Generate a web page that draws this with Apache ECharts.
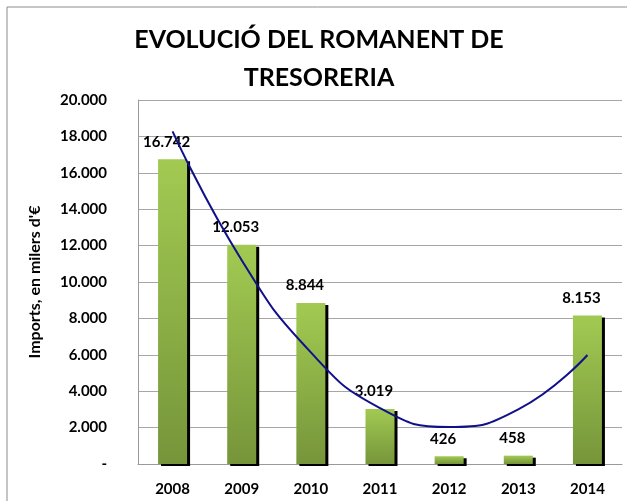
<!DOCTYPE html>
<html>
<head>
<meta charset="utf-8">
<script src="https://cdn.jsdelivr.net/npm/echarts@6/dist/echarts.min.js"></script>
<style>
html,body{margin:0;padding:0;background:#fff;}
#chart{width:627px;height:501px;}
</style>
</head>
<body>
<div id="chart"></div>
<script>
var titleText = "EVOLUCIÓ DEL ROMANENT DE\nTRESORERIA";
var yAxisName = "Imports, en milers d'€";
var categories = ["2008", "2009", "2010", "2011", "2012", "2013", "2014"];
var values = [16742, 12053, 8844, 3019, 426, 458, 8153];
// trend line (polynomial) at each year
var trendValues = [18280, 11200, 6130, 3070, 2030, 3000, 5990];
var yMin = 0, yMax = 20000, yStep = 2000;

function fmt(v) {
  if (v === 0) return '-';
  return String(v).replace(/\B(?=(\d{3})+(?!\d))/g, '.');
}

var FONT = 'Lato';
var chart = echarts.init(document.getElementById('chart'), null, {renderer: 'canvas'});
chart.setOption({
  animation: false,
  backgroundColor: '#fff',
  graphic: [{
    type: 'rect', shape: {x: 7, y: 7, width: 640, height: 520},
    style: {fill: null, stroke: '#8c8c8c', lineWidth: 1}, silent: true
  }, {
    type: 'text', x: 319, y: 21,
    style: {
      text: titleText, align: 'center', verticalAlign: 'top',
      fontFamily: FONT, fontWeight: 'bold', fontSize: 25, lineHeight: 38, fill: '#000'
    },
    silent: true
  }],
  grid: {left: 138, right: 5, top: 100, bottom: 37, containLabel: false},
  xAxis: {
    type: 'category', data: categories,
    axisLine: {lineStyle: {color: '#999', width: 1}},
    axisTick: {show: false},
    axisLabel: {margin: 18, fontFamily: FONT, fontWeight: 'bold', fontSize: 15, color: '#000'}
  },
  yAxis: {
    type: 'value', min: yMin, max: yMax, interval: yStep,
    name: yAxisName, nameLocation: 'middle', nameGap: 95,
    nameTextStyle: {fontFamily: FONT, fontWeight: 'bold', fontSize: 16, color: '#000'},
    axisLine: {show: true, lineStyle: {color: '#999', width: 1}},
    axisTick: {show: false},
    splitLine: {lineStyle: {color: '#a6a6a6', width: 1}},
    axisLabel: {margin: 31, fontFamily: FONT, fontWeight: 'bold', fontSize: 15, color: '#000', formatter: fmt}
  },
  series: [{
    type: 'bar', data: values, barWidth: 29,
    itemStyle: {
      color: new echarts.graphic.LinearGradient(0, 0, 0, 1, [
        {offset: 0, color: '#a2ca52'},
        {offset: 1, color: '#76953a'}
      ]),
      shadowColor: '#000', shadowBlur: 0, shadowOffsetX: 3, shadowOffsetY: 2
    },
    label: {
      show: true, position: 'top', distance: 10, offset: [-6, 0],
      fontFamily: FONT, fontWeight: 'bold', fontSize: 15, color: '#000',
      formatter: function (p) { return fmt(p.value); }
    },
    z: 2
  }, {
    type: 'line', data: trendValues, smooth: true, symbol: 'none',
    lineStyle: {color: '#10108a', width: 2},
    z: 3
  }]
});
</script>
</body>
</html>
